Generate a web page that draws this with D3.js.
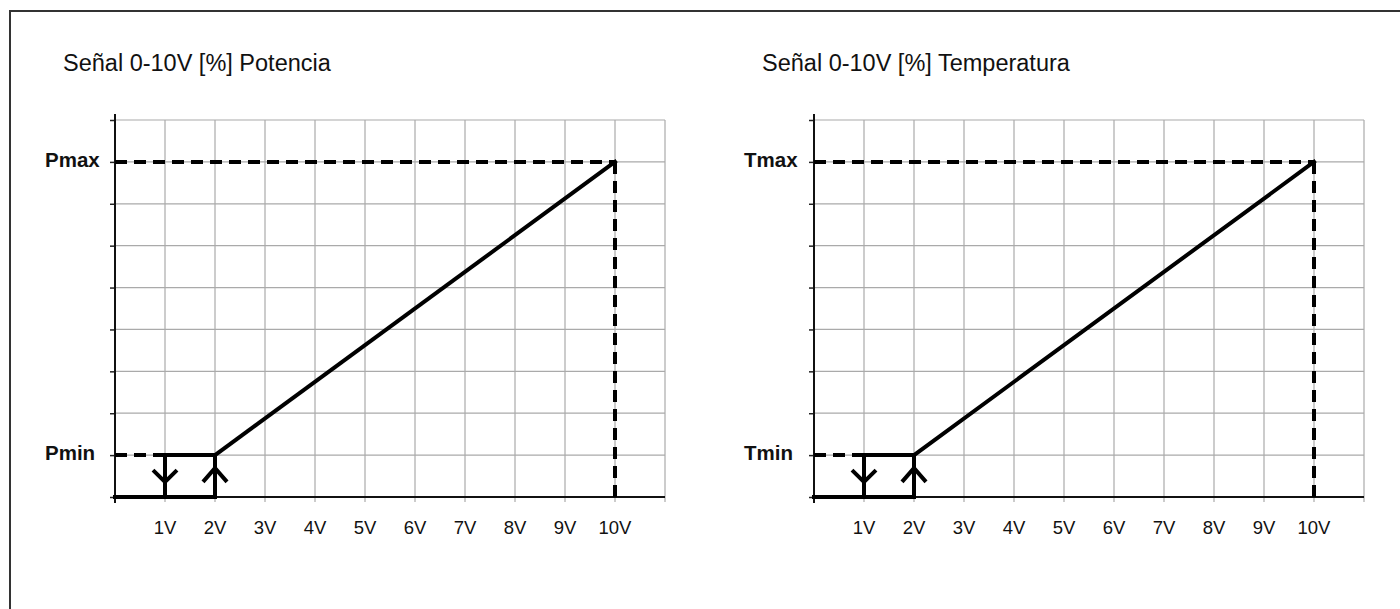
<!DOCTYPE html>
<html>
<head>
<meta charset="utf-8">
<script src="https://cdn.jsdelivr.net/npm/d3@7"></script>
<style>
  html, body { margin: 0; padding: 0; background: #fff; }
  svg { display: block; font-family: Arial, "Liberation Sans", sans-serif; }
</style>
</head>
<body>
<svg id="chart" width="1400" height="609"></svg>
<script>
// ---- data ----
const titles = ["Señal 0-10V [%] Potencia", "Señal 0-10V [%] Temperatura"];
const maxLabels = ["Pmax", "Tmax"];
const minLabels = ["Pmin", "Tmin"];
const xTickValues = [1, 2, 3, 4, 5, 6, 7, 8, 9, 10];
const xTickLabels = ["1V", "2V", "3V", "4V", "5V", "6V", "7V", "8V", "9V", "10V"];
const xGridValues = [1, 2, 3, 4, 5, 6, 7, 8, 9, 10, 11];
const yGridValues = [0, 1, 2, 3, 4, 5, 6, 7, 8, 9];
const minLevel = 1;   // grid units
const maxLevel = 8;   // grid units
// solid characteristic segments [x(V), level]
const solidSegments = [
  [[0, 0], [2, 0]],
  [[2, 0], [2, 1]],
  [[1, 1], [2, 1]],
  [[1, 1], [1, 0]],
  [[2, 1], [10, 8]]
];
// dashed reference segments
const dashedSegments = [
  [[0, 1], [1, 1]],
  [[0, 8], [10, 8]],
  [[10, 8], [10, 0]]
];
// hysteresis arrows: chevrons [arm1, vertex, arm2]
const arrows = [
  [[0.76, 0.64], [1, 0.36], [1.24, 0.64]],   // down at 1V
  [[1.76, 0.36], [2, 0.69], [2.24, 0.36]]    // up at 2V
];

// ---- layout ----
const svg = d3.select("#chart");
svg.append("rect")
  .attr("x", 10).attr("y", 11)
  .attr("width", 1400).attr("height", 620)
  .attr("fill", "none").attr("stroke", "#333").attr("stroke-width", 2);

const panelOffsets = [0, 699];

panelOffsets.forEach((off, i) => {
  const x0 = 115 + off;
  const x = d3.scaleLinear().domain([0, 11]).range([x0, x0 + 550]);
  const y = d3.scaleLinear().domain([0, 9]).range([497, 120]);
  const g = svg.append("g");

  // title
  g.append("text")
    .attr("x", 63 + off).attr("y", 71)
    .attr("font-size", 23.5).attr("fill", "#111")
    .text(titles[i]);

  // horizontal gridlines
  g.selectAll(".hg").data(yGridValues.filter(v => v > 0)).enter().append("line")
    .attr("x1", x(0)).attr("x2", x(11))
    .attr("y1", d => y(d)).attr("y2", d => y(d))
    .attr("stroke", "#aaa").attr("stroke-width", 1.2);

  // vertical gridlines (extend below axis as ticks)
  g.selectAll(".vg").data(xGridValues).enter().append("line")
    .attr("x1", d => x(d)).attr("x2", d => x(d))
    .attr("y1", y(9)).attr("y2", y(0) + 5)
    .attr("stroke", "#aaa").attr("stroke-width", 1.2);

  // y axis with small ticks
  const yAxis = d3.axisLeft(y).tickValues(yGridValues).tickSize(5).tickSizeOuter(0).tickFormat("");
  const ya = g.append("g").attr("transform", `translate(${x0},0)`).call(yAxis);
  ya.select(".domain").remove();
  ya.selectAll(".tick line").attr("stroke", "#222").attr("stroke-width", 1.5);
  g.append("line")
    .attr("x1", x0).attr("x2", x0)
    .attr("y1", y(9) - 6).attr("y2", y(0) + 6)
    .attr("stroke", "#111").attr("stroke-width", 2);

  // x axis line
  g.append("line")
    .attr("x1", x0).attr("x2", x(11))
    .attr("y1", y(0)).attr("y2", y(0))
    .attr("stroke", "#111").attr("stroke-width", 2);

  // x tick labels
  g.selectAll(".xl").data(xTickValues).enter().append("text")
    .attr("x", d => x(d)).attr("y", 534)
    .attr("text-anchor", "middle")
    .attr("font-size", 18.5).attr("fill", "#111")
    .text((d, j) => xTickLabels[j]);

  // level labels
  g.append("text")
    .attr("x", 45 + off).attr("y", y(maxLevel) + 5)
    .attr("font-size", 20.5).attr("font-weight", "bold").attr("fill", "#111")
    .text(maxLabels[i]);
  g.append("text")
    .attr("x", 45 + off).attr("y", y(minLevel) + 5)
    .attr("font-size", 20.5).attr("font-weight", "bold").attr("fill", "#111")
    .text(minLabels[i]);

  const line = d3.line().x(d => x(d[0])).y(d => y(d[1]));

  // dashed lines
  g.selectAll(".dl").data(dashedSegments).enter().append("path")
    .attr("d", line)
    .attr("fill", "none").attr("stroke", "#000").attr("stroke-width", 4)
    .attr("stroke-dasharray", "12,7");

  // solid characteristic
  g.selectAll(".sl").data(solidSegments).enter().append("path")
    .attr("d", line)
    .attr("fill", "none").attr("stroke", "#000").attr("stroke-width", 4)
    .attr("stroke-linecap", "square");

  // arrows
  g.selectAll(".ar").data(arrows).enter().append("path")
    .attr("d", line)
    .attr("fill", "none").attr("stroke", "#000").attr("stroke-width", 4);
});
</script>
</body>
</html>
